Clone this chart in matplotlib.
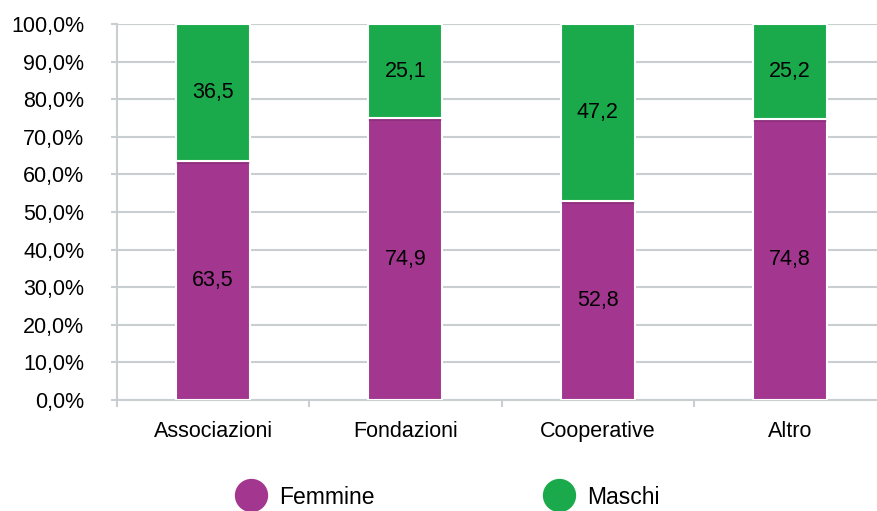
import matplotlib
matplotlib.use("Agg")
import matplotlib.pyplot as plt
import matplotlib.patheffects as pe
from matplotlib.lines import Line2D
from matplotlib.ticker import FuncFormatter, FixedLocator

plt.rcParams['font.family'] = ['Liberation Sans', 'DejaVu Sans']

categories = ["Associazioni", "Fondazioni", "Cooperative", "Altro"]
femmine = [63.5, 74.9, 52.8, 74.8]
maschi = [36.5, 25.1, 47.2, 25.2]
series_names = ["Femmine", "Maschi"]

purple = "#A3368F"
green = "#1BAA4B"
grid_col = "#C9CED1"

fig = plt.figure(figsize=(8.77, 5.11), dpi=100)
# right edge of plot area lies past the image border, as in the reference
ax = fig.add_axes([117 / 877, 1 - 400 / 511, 769 / 877, 376 / 511])

x = list(range(len(categories)))
shadow = [pe.SimplePatchShadow(offset=(0, -2), alpha=0.12, shadow_rgbFace="black"), pe.Normal()]
b1 = ax.bar(x, femmine, width=0.385, color=purple, edgecolor="white", linewidth=1.5, zorder=3)
b2 = ax.bar(x, maschi, width=0.385, bottom=femmine, color=green, edgecolor="white", linewidth=1.5, zorder=3)
for p in list(b1) + list(b2):
    p.set_path_effects(shadow)

for i in x:
    ax.text(i, femmine[i] / 2, f"{femmine[i]:.1f}".replace(".", ","), ha="center", va="center",
            fontsize=15.5, color="black", zorder=4)
    ax.text(i, femmine[i] + maschi[i] / 2, f"{maschi[i]:.1f}".replace(".", ","), ha="center", va="center",
            fontsize=15.5, color="black", zorder=4)

ax.set_xlim(-0.5, 3.5)
ax.set_ylim(0, 100)
ax.yaxis.set_major_locator(FixedLocator([i * 10 for i in range(11)]))
ax.yaxis.set_major_formatter(FuncFormatter(lambda v, _: f"{v:.1f}%".replace(".", ",")))
ax.grid(axis="y", color=grid_col, linewidth=1.5, zorder=0)

ax.set_xticks(x)
ax.set_xticklabels(categories)
ax.set_xticks([-0.5, 0.5, 1.5, 2.5], minor=True)
ax.tick_params(axis="x", which="major", length=0, pad=15, labelsize=15.5)
ax.tick_params(axis="x", which="minor", length=5, width=1.5, color=grid_col)
ax.tick_params(axis="y", length=4.5, width=1.5, color=grid_col, pad=19, labelsize=15.5)

for s in ["top", "right"]:
    ax.spines[s].set_visible(False)
for s in ["left", "bottom"]:
    ax.spines[s].set_color(grid_col)
    ax.spines[s].set_linewidth(1.5)

handles = [Line2D([], [], marker="o", linestyle="none", markersize=25, markerfacecolor=purple,
                  markeredgecolor="white", label=series_names[0]),
           Line2D([], [], marker="o", linestyle="none", markersize=25, markerfacecolor=green,
                  markeredgecolor="white", label=series_names[1])]
fig.legend(handles=handles, loc="center", bbox_to_anchor=(444 / 877, 1 - 497 / 511), ncol=2,
           frameon=False, fontsize=16.5, columnspacing=7.07, handletextpad=0.2)

fig.savefig("out.png", dpi=100)
